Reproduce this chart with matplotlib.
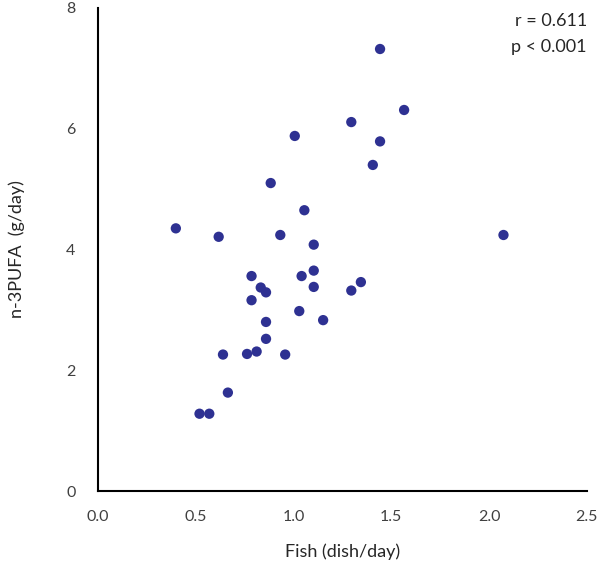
import matplotlib
matplotlib.use("Agg")
import matplotlib.pyplot as plt

fish = [1.443, 1.566, 1.296, 1.007, 1.443, 1.406, 0.884,
        1.056, 0.399, 0.618, 0.933, 2.074, 1.104, 1.104, 0.786, 1.042,
        0.833, 0.860, 1.104, 1.345, 1.296, 0.786, 1.030, 0.860, 1.152,
        0.860, 0.640, 0.763, 0.812, 0.958, 0.665, 0.520, 0.570]
n3pufa = [7.32, 6.31, 6.11, 5.88, 5.79, 5.40, 5.10,
          4.65, 4.35, 4.21, 4.24, 4.24, 4.08, 3.65, 3.56, 3.56,
          3.37, 3.29, 3.38, 3.46, 3.32, 3.16, 2.98, 2.80, 2.83,
          2.52, 2.26, 2.27, 2.31, 2.26, 1.63, 1.28, 1.28]
xticks = [0.0, 0.5, 1.0, 1.5, 2.0, 2.5]
xticklabels = ["0.0", "0.5", "1.0", "1.5", "2.0", "2.5"]
yticks = [0, 2, 4, 6, 8]
yticklabels = ["0", "2", "4", "6", "8"]

plt.rcParams['font.family'] = ['Lato', 'DejaVu Sans']
fig = plt.figure(figsize=(6, 5.67), dpi=100)
ax = fig.add_axes([0.163, 0.134, 0.815, 0.852])
ax.scatter(fish, n3pufa, s=55, color='#2E3192', edgecolors='none', zorder=3)
ax.set_xlim(0, 2.5)
ax.set_ylim(0, 8)
ax.set_xticks(xticks)
ax.set_xticklabels(xticklabels)
ax.set_yticks(yticks)
ax.set_yticklabels(yticklabels)
for s in ['top', 'right']:
    ax.spines[s].set_visible(False)
for s in ['left', 'bottom']:
    ax.spines[s].set_linewidth(1.5)
    ax.spines[s].set_color('black')
ax.tick_params(axis='both', length=0, labelsize=11.5, labelcolor='#404040')
ax.tick_params(axis='x', pad=14)
ax.tick_params(axis='y', pad=16)
ax.set_xlabel('Fish (dish/day)', fontsize=13, color='#262626', labelpad=14)
ax.set_ylabel('n-3PUFA  (g/day)', fontsize=13, color='#262626', labelpad=30)
ax.text(1.0, 0.99, 'r = 0.611', transform=ax.transAxes, ha='right', va='top',
        fontsize=13, color='#262626')
ax.text(1.0, 0.935, 'p < 0.001', transform=ax.transAxes, ha='right', va='top',
        fontsize=13, color='#262626')
fig.savefig('out.png', dpi=100)
